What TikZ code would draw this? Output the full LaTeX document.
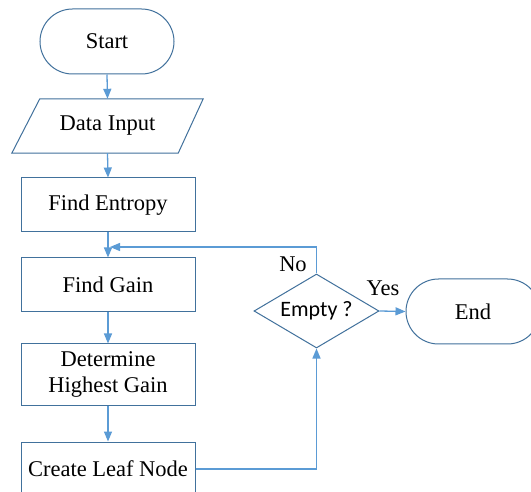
\documentclass[tikz,border=0pt]{standalone}
\usepackage{fontspec}
\setmainfont{Liberation Serif}
\newfontfamily\calibrilike{Carlito}
\usetikzlibrary{shapes.geometric,arrows.meta,calc}
\definecolor{boxline}{HTML}{41719C}
\definecolor{flowline}{HTML}{5B9BD5}
\tikzset{
  x=1pt, y=1pt,
  every node/.style={font=\rmfamily\fontsize{22.5}{26}\selectfont},
  terminal/.style={draw=boxline, line width=1pt, rounded corners=32.5pt,
    minimum width=134pt, minimum height=65pt, inner sep=0pt},
  process/.style={draw=boxline, line width=1pt, minimum width=174pt,
    minimum height=54pt, inner sep=0pt, align=center},
  decision/.style={draw=boxline, line width=1pt, diamond, aspect=1.69,
    minimum width=125pt, minimum height=74pt, inner sep=0pt,
    font=\calibrilike\fontsize{22}{25}\selectfont},
  flow/.style={draw=flowline, line width=1.3pt,
    -{Triangle[length=10pt,width=8pt]}},
}
\begin{document}
\begin{tikzpicture}
\clip (0,0) rectangle (531,-492);
\fill[white] (0,0) rectangle (531,-492);

% terminals
\node[terminal] (start) at (107,-41.5) {Start};
\node[terminal] (end) at (473,-311.5) {End};

% input parallelogram (outline drawn around a placeholder node)
\node[minimum width=138pt, minimum height=54pt, inner sep=0pt] (data) at (107.5,-126) {Data Input};
\draw[boxline, line width=1pt]
  ($(data.north west)+(1.5,0)$) -- ($(data.north east)+(26.5,0)$)
  -- ($(data.south east)+(1.5,0)$) -- ($(data.south west)+(-26.5,0)$) -- cycle;

% process boxes
\node[process] (entropy) at (108,-205) {Find Entropy};
\node[process] (gain) at (108,-285) {Find Gain};
\node[process, minimum height=61pt] (determine) at (108,-374.5) {Determine\\Highest Gain};
\node[process] (leaf) at (108,-469) {Create Leaf Node};

% decision
\node[decision] (empty) at (316.5,-311) {Empty ?};

% connectors
\draw[flow] (start.south) -- (data.north);
\draw[flow] (data.south) -- (entropy.north);
\draw[flow] (entropy.south) -- (gain.north);
\draw[flow] (gain.south) -- (determine.north);
\draw[flow] (determine.south) -- (leaf.north);
\draw[flow] (leaf.east) -| (empty.south);
\draw[flow] (empty.east) -- (end.west);
\coordinate (join) at (110,-247);
\draw[flow] (empty.north) |- (join);

% branch labels
\node (nolabel) at (293,-264) {No};
\node (yeslabel) at (383,-288) {Yes};
\end{tikzpicture}
\end{document}
